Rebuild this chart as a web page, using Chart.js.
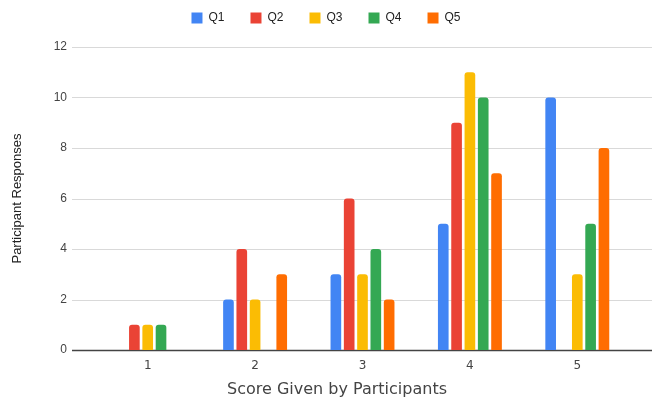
<!DOCTYPE html>
<html>
<head>
<meta charset="utf-8">
<script src="https://cdn.jsdelivr.net/npm/chart.js@4"></script>
<style>
  html, body { margin: 0; padding: 0; background: #fff; }
  #wrap { width: 652px; height: 404px; }
</style>
</head>
<body>
<div id="wrap"><canvas id="scoreChart" width="652" height="404"></canvas></div>
<script>
// Score distribution per question
const scores = ['1', '2', '3', '4', '5'];
const q1 = [0, 2, 3, 5, 10];
const q2 = [1, 4, 6, 9, 0];
const q3 = [1, 2, 3, 11, 3];
const q4 = [1, 0, 4, 10, 5];
const q5 = [0, 3, 2, 7, 8];
const yTicks = [0, 2, 4, 6, 8, 10, 12];

const seriesNames = ['Q1', 'Q2', 'Q3', 'Q4', 'Q5'];
const seriesColors = ['#4285F4', '#EA4335', '#FBBC04', '#34A853', '#FF6D01'];
const xTitle = 'Score Given by Participants';

// gridlines in the reference run a bit past the bar area on both sides
const wideGrid = {
    id: 'wideGrid',
    beforeInit(chart) {
        // leave a bit more room under the legend
        const fit = chart.legend.fit;
        chart.legend.fit = function() {
            fit.call(this);
            this.height += 13;
        };
    },
    beforeDatasetsDraw(chart) {
        const ctx = chart.ctx;
        const y = chart.scales.y;
        ctx.save();
        yTicks.forEach(v => {
            const py = Math.round(y.getPixelForValue(v)) + 0.5;
            ctx.beginPath();
            ctx.strokeStyle = v === 0 ? '#444444' : '#d9d9d9';
            ctx.lineWidth = v === 0 ? 1.5 : 1;
            ctx.moveTo(72, py);
            ctx.lineTo(652, py);
            ctx.stroke();
        });
        ctx.restore();
    },
    afterDraw(chart) {
        // x axis title sits a little left of the plot centre
        const ctx = chart.ctx;
        ctx.save();
        ctx.font = '16px "DejaVu Sans", Verdana, sans-serif';
        ctx.fillStyle = '#444';
        ctx.textAlign = 'center';
        ctx.textBaseline = 'middle';
        ctx.fillText(xTitle, 337, 390);
        ctx.restore();
    }
};

const ctx = document.getElementById('scoreChart').getContext('2d');
const chart = new Chart(ctx, {
    type: 'bar',
    data: {
        labels: scores,
        datasets: [q1, q2, q3, q4, q5].map((vals, i) => ({
            label: seriesNames[i],
            data: vals,
            backgroundColor: seriesColors[i],
            borderRadius: { topLeft: 3, topRight: 3 },
            borderSkipped: 'bottom',
            categoryPercentage: 0.62,
            barPercentage: 0.8
        }))
    },
    plugins: [wideGrid],
    options: {
        responsive: false,
        animation: false,
        layout: {
            padding: { left: 21, right: 21, top: -14, bottom: 0 }
        },
        plugins: {
            legend: {
                position: 'top',
                labels: {
                    boxWidth: 11,
                    boxHeight: 11,
                    padding: 26,
                    color: '#222',
                    font: { family: 'Arial, "Liberation Sans", sans-serif', size: 12 }
                }
            },
            tooltip: { enabled: false }
        },
        scales: {
            x: {
                grid: { display: false, drawTicks: false },
                border: { display: false },
                afterFit: scale => {
                    scale.height = 54;
                },
                ticks: {
                    color: '#444',
                    padding: 9,
                    font: { family: '"DejaVu Sans", Verdana, sans-serif', size: 12 }
                }
            },
            y: {
                min: 0,
                max: 12,
                grid: { display: false, drawTicks: false },
                border: { display: false },
                afterBuildTicks: scale => {
                    scale.ticks = yTicks.map(v => ({ value: v }));
                },
                afterFit: scale => {
                    scale.width = 73;
                },
                ticks: {
                    color: '#444',
                    padding: 27,
                    font: { family: 'Arial, "Liberation Sans", sans-serif', size: 12 }
                },
                title: {
                    display: true,
                    text: 'Participant Responses',
                    color: '#222',
                    padding: { top: -11, bottom: 0 },
                    font: { family: 'Arial, "Liberation Sans", sans-serif', size: 13 }
                }
            }
        }
    }
});
</script>
</body>
</html>
